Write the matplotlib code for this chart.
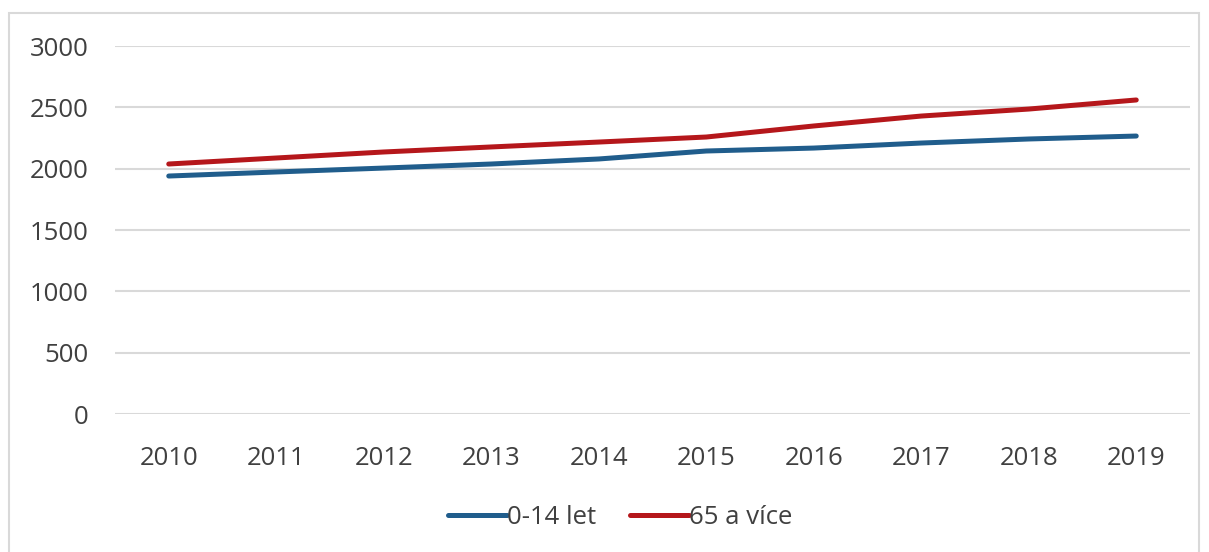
import matplotlib.pyplot as plt
from matplotlib.patches import Rectangle

years = ["2010", "2011", "2012", "2013", "2014", "2015", "2016", "2017", "2018", "2019"]
deti = [1940, 1973, 2005, 2038, 2079, 2144, 2168, 2209, 2242, 2266]
seniori = [2038, 2087, 2136, 2177, 2217, 2258, 2348, 2429, 2486, 2560]

plt.rcParams['font.family'] = ['Open Sans', 'DejaVu Sans']

fig = plt.figure(figsize=(12.09, 5.52), dpi=100)
ax = fig.add_axes([115 / 1209, 1 - 414 / 552, 1075 / 1209, 368 / 552])

x = range(len(years))
ax.plot(x, deti, color="#205D8C", lw=3.6, solid_capstyle="round", label="0-14 let")
ax.plot(x, seniori, color="#B5171B", lw=3.6, solid_capstyle="round", label="65 a více")

ax.set_xlim(-0.5, len(years) - 0.5)
ax.set_ylim(0, 3000)
ax.set_yticks(range(0, 3001, 500))
ax.set_xticks(list(x))
ax.set_xticklabels(years)
ax.tick_params(axis="both", length=0, labelsize=18.5, labelcolor="#404040")
ax.tick_params(axis="y", pad=19)
ax.tick_params(axis="x", pad=23)
ax.grid(axis="y", color="#d9d9d9", lw=1.5)
ax.set_axisbelow(True)
for s in ax.spines.values():
    s.set_visible(False)

leg = fig.legend(loc="center", bbox_to_anchor=(620 / 1209, 1 - 517 / 552), ncol=2,
                 frameon=False, fontsize=18.5, handlelength=2.3, handletextpad=0.0,
                 columnspacing=1.3, labelcolor="#404040")

# light frame around the chart area
fig.patches.append(Rectangle((9 / 1209, -0.05), 1190 / 1209, 1 - 13 / 552 + 0.05,
                             transform=fig.transFigure, fill=False,
                             edgecolor="#d9d9d9", lw=1.5))

fig.savefig("out.png", dpi=100)
